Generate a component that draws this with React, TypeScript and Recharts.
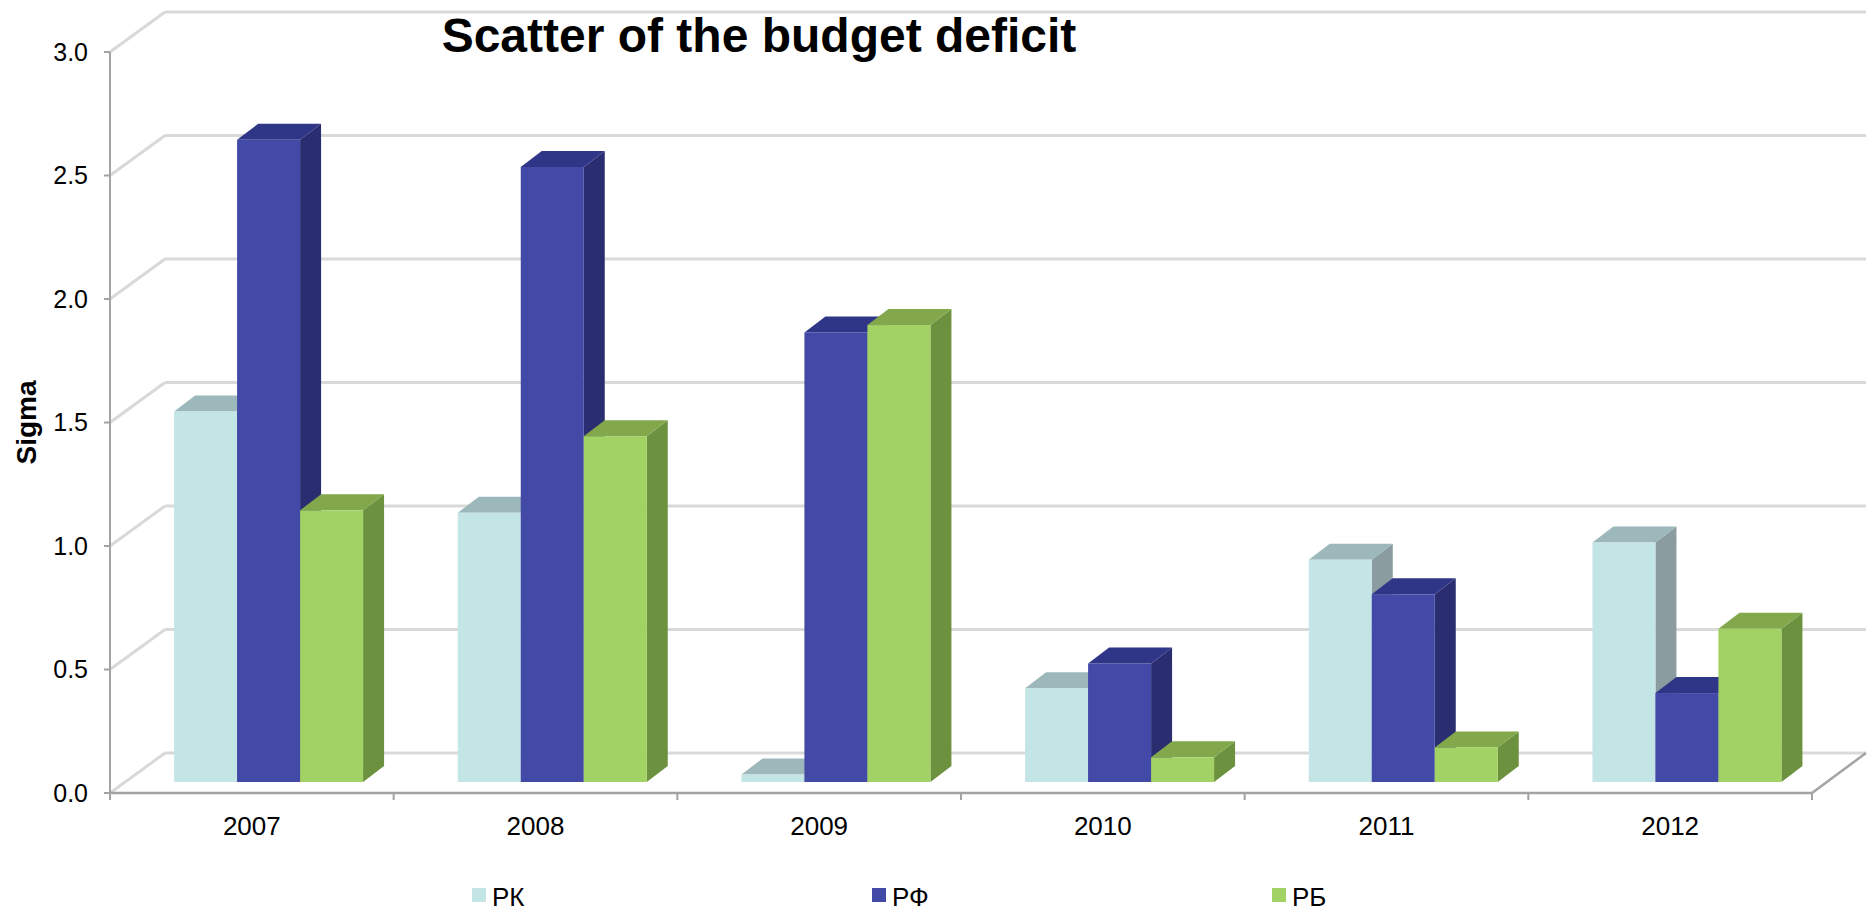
import { BarChart, Bar, XAxis, YAxis, CartesianGrid, Legend } from 'recharts';

// values (Sigma per year)
const years = ['2007', '2008', '2009', '2010', '2011', '2012'];
const rkValues = [1.5, 1.09, 0.03, 0.38, 0.9, 0.97];
const rfValues = [2.6, 2.49, 1.82, 0.48, 0.76, 0.36];
const rbValues = [1.1, 1.4, 1.85, 0.1, 0.14, 0.62];
const seriesNames = ['РК', 'РФ', 'РБ'];
const yTicks = [0, 0.5, 1, 1.5, 2, 2.5, 3];

const data = years.map((year, i) => ({
  year,
  rk: rkValues[i],
  rf: rfValues[i],
  rb: rbValues[i],
}));

const FONT = '"Liberation Sans", Arial, Helvetica, sans-serif';
const W = 1872;
const H = 913;
const PLOT_LEFT = 110;
const PLOT_RIGHT = 1812;
const PLOT_TOP = 52;
const PLOT_BOTTOM = 793;
const BAND = (PLOT_RIGHT - PLOT_LEFT) / years.length;

// oblique 3D offsets
const WALL_DX = 55;
const WALL_DY = 40;
const BAR_DX = 17; // bars sit a little behind the front plane
const BAR_DY = 11;
const DEPTH_DX = 21; // depth of a single column
const DEPTH_DY = 16;

const GRID = '#d9d9d9';
const AXIS = '#a3a3a3';

const palette = [
  { key: 'rk', front: '#c4e5e6', top: '#9db8ba', side: '#8a9ca0' },
  { key: 'rf', front: '#4249a7', top: '#2f3587', side: '#2a2e70' },
  { key: 'rb', front: '#a2d263', top: '#82a84b', side: '#6c913f' },
];

const makeColumn = (c: { front: string; top: string; side: string }) => (p: any) => {
  const { x, y, width: w, height: h } = p;
  if (w == null || h == null || isNaN(y)) return <g />;
  const fx = x + BAR_DX;
  const fy = y - BAR_DY;
  const top = `${fx},${fy} ${fx + w},${fy} ${fx + w + DEPTH_DX},${fy - DEPTH_DY} ${fx + DEPTH_DX},${fy - DEPTH_DY}`;
  const side = `${fx + w},${fy} ${fx + w + DEPTH_DX},${fy - DEPTH_DY} ${fx + w + DEPTH_DX},${fy + h - DEPTH_DY} ${fx + w},${fy + h}`;
  return (
    <g>
      <polygon points={side} fill={c.side} />
      <polygon points={top} fill={c.top} />
      <rect x={fx} y={fy} width={w} height={h} fill={c.front} />
    </g>
  );
};

// gridline on the side wall + back wall
const WallLine = (p: any) => {
  const { x1, y1, x2 } = p;
  const bx = x1 + WALL_DX;
  const by = y1 - WALL_DY;
  const isFloor = Math.abs(y1 - PLOT_BOTTOM) < 1;
  return (
    <g key={p.key}>
      <line x1={x1} y1={y1} x2={bx} y2={by} stroke={GRID} strokeWidth={3} />
      <line x1={bx} y1={by} x2={x2 + WALL_DX - 1} y2={by} stroke={GRID} strokeWidth={3} />
      {isFloor && (
        <line x1={x2} y1={y1} x2={x2 + WALL_DX - 1} y2={by} stroke={AXIS} strokeWidth={2.5} />
      )}
    </g>
  );
};

const YearTick = (p: any) => {
  const { x, y, payload, index } = p;
  const axisY = y - 7;
  const half = BAND / 2;
  return (
    <g>
      <line x1={x - half} y1={axisY} x2={x - half} y2={axisY + 7} stroke={AXIS} strokeWidth={2} />
      {index === years.length - 1 && (
        <line x1={x + half} y1={axisY} x2={x + half} y2={axisY + 7} stroke={AXIS} strokeWidth={2} />
      )}
      <text x={x} y={axisY + 42} textAnchor="middle" fontSize={26} fontFamily={FONT} fill="#000">
        {payload.value}
      </text>
    </g>
  );
};

const SigmaLabel = (p: any) => {
  const vb = p.viewBox || {};
  const cx = 36;
  const cy = (vb.y ?? PLOT_TOP) + (vb.height ?? PLOT_BOTTOM - PLOT_TOP) / 2;
  return (
    <text
      x={cx}
      y={cy}
      transform={`rotate(-90 ${cx} ${cy})`}
      textAnchor="middle"
      fontSize={28}
      fontWeight="bold"
      fontFamily={FONT}
      fill="#000"
    >
      Sigma
    </text>
  );
};

const LegendContent = () => (
  <div style={{ display: 'flex', height: 26, fontFamily: FONT, fontSize: 26, lineHeight: '26px', color: '#000' }}>
    {palette.map((s, i) => (
      <div key={s.key} style={{ width: 400, display: 'flex', alignItems: 'flex-start' }}>
        <span style={{ width: 14, height: 14, background: s.front, marginTop: 4, marginRight: 6, display: 'inline-block' }} />
        <span>{seriesNames[i]}</span>
      </div>
    ))}
  </div>
);

export default function App() {
  return (
    <div style={{ position: 'absolute', left: 0, top: 0, width: W, height: H, background: '#fff', overflow: 'hidden' }}>
      <div
        style={{
          position: 'absolute',
          left: 759,
          top: 12,
          transform: 'translateX(-50%)',
          whiteSpace: 'nowrap',
          fontFamily: FONT,
          fontWeight: 'bold',
          fontSize: 48,
          lineHeight: '48px',
          color: '#000',
          zIndex: 2,
        }}
      >
        Scatter of the budget deficit
      </div>
      <BarChart
        width={W}
        height={H}
        data={data}
        margin={{ top: PLOT_TOP, right: W - PLOT_RIGHT, bottom: 34, left: 0 }}
        barCategoryGap="16.6%"
        barGap={0}
      >
        <CartesianGrid vertical={false} horizontal={(p: any) => <WallLine {...p} />} />
        <XAxis
          dataKey="year"
          height={60}
          interval={0}
          tickLine={false}
          tickSize={7}
          tickMargin={0}
          axisLine={{ stroke: AXIS, strokeWidth: 2.5 }}
          tick={<YearTick />}
        />
        <YAxis
          width={PLOT_LEFT}
          domain={[0, 3]}
          ticks={yTicks}
          interval={0}
          tickFormatter={(v: number) => v.toFixed(1)}
          tick={{ fontSize: 25, fill: '#000', fontFamily: FONT }}
          tickSize={6}
          tickMargin={16}
          tickLine={{ stroke: AXIS, strokeWidth: 2 }}
          axisLine={{ stroke: AXIS, strokeWidth: 2 }}
          label={(p: any) => <SigmaLabel {...p} />}
        />
        <Legend
          verticalAlign="bottom"
          content={<LegendContent />}
          wrapperStyle={{ left: 472, top: 884, bottom: 'auto', width: 1200 }}
        />
        {palette.map((c, i) => (
          <Bar
            key={c.key}
            dataKey={c.key}
            name={seriesNames[i]}
            fill={c.front}
            isAnimationActive={false}
            shape={makeColumn(c)}
          />
        ))}
      </BarChart>
    </div>
  );
}
